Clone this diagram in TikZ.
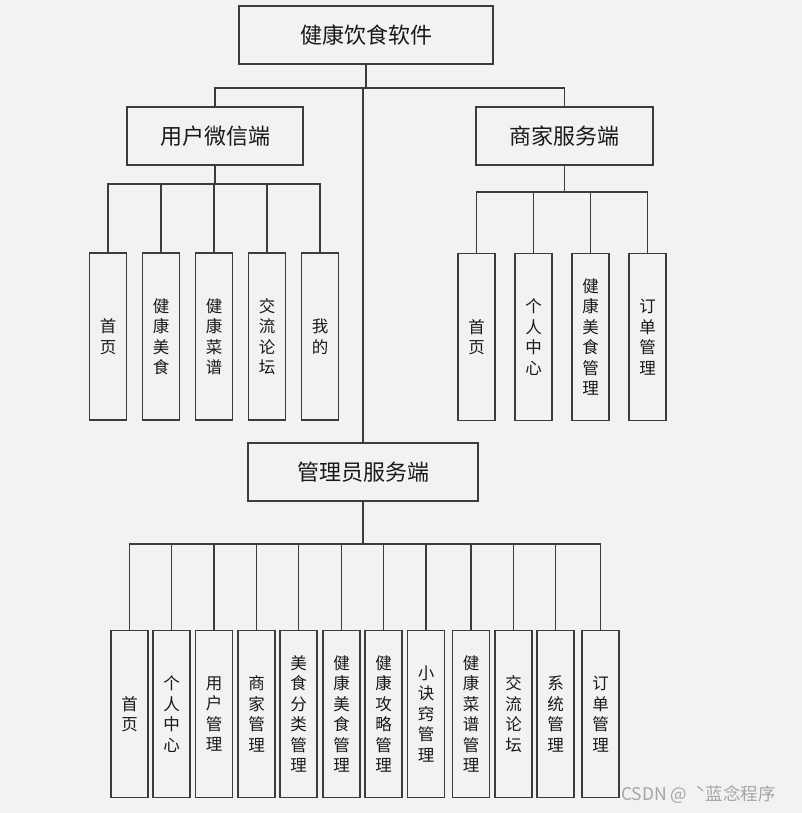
\documentclass[tikz,border=0pt]{standalone}
\usepackage{fontspec}
\setmainfont{Noto Sans CJK SC}
\usepackage{xcolor}
\definecolor{paper}{RGB}{242,242,242}
\definecolor{edge}{RGB}{60,60,60}
\definecolor{mark}{RGB}{165,165,165}
\tikzset{
  box/.style={draw=edge, line width=1.1pt, inner sep=0pt, text=black!90},
  head/.style={box, minimum height=58pt, font=\fontsize{22}{26}\selectfont},
  leaf/.style={box, minimum width=37pt, minimum height=167pt, align=center,
    font=\fontsize{16.5}{20.5}\selectfont},
  link/.style={draw=edge, line width=1.1pt}
}
\begin{document}
\begin{tikzpicture}[x=1pt, y=-1pt]
            \fill[paper] (0,0) rectangle (802,813);
            \useasboundingbox (0,0) rectangle (802,813);
            % Heads
            \node[head, minimum width=254pt] (root) at (366,35) {健康饮食软件};
            \node[head, minimum width=176pt] (user) at (215,136) {用户微信端};
            \node[head, minimum width=177pt] (merch) at (564.5,136) {商家服务端};
            \node[head, minimum width=230pt] (admin) at (363,472) {管理员服务端};
            % Bus points
            \coordinate (rootbus) at (366,88);
            \coordinate (userbus) at (215,184);
            \coordinate (merchbus) at (564.5,192);
            \coordinate (adminbus) at (363,544);
            % User side
            \node[leaf] (u1) at (108,336.5) {首\\页};
            \node[leaf] (u2) at (161,336.5) {健\\康\\美\\食};
            \node[leaf] (u3) at (214,336.5) {健\\康\\菜\\谱};
            \node[leaf] (u4) at (267,336.5) {交\\流\\论\\坛};
            \node[leaf] (u5) at (320,336.5) {我\\的};
            % Merchant side
            \node[leaf] (m1) at (476.5,337) {首\\页};
            \node[leaf] (m2) at (533.5,337) {个\\人\\中\\心};
            \node[leaf] (m3) at (590.5,337) {健\\康\\美\\食\\管\\理};
            \node[leaf] (m4) at (647.5,337) {订\\单\\管\\理};
            % Admin side
            \node[leaf] (a1) at (129.5,714) {首\\页};
            \node[leaf] (a2) at (171.5,714) {个\\人\\中\\心};
            \node[leaf] (a3) at (214,714) {用\\户\\管\\理};
            \node[leaf] (a4) at (256.5,714) {商\\家\\管\\理};
            \node[leaf] (a5) at (298.5,714) {美\\食\\分\\类\\管\\理};
            \node[leaf] (a6) at (341.5,714) {健\\康\\美\\食\\管\\理};
            \node[leaf] (a7) at (383.5,714) {健\\康\\攻\\略\\管\\理};
            \node[leaf] (a8) at (426,714) {小\\诀\\窍\\管\\理};
            \node[leaf] (a9) at (471,714) {健\\康\\菜\\谱\\管\\理};
            \node[leaf] (a10) at (513.5,714) {交\\流\\论\\坛};
            \node[leaf] (a11) at (555.5,714) {系\\统\\管\\理};
            \node[leaf] (a12) at (600.5,714) {订\\单\\管\\理};
            % Links
            \draw[link] (root.south) -- (rootbus);
            \draw[link] (user.north) |- (rootbus) -| (merch.north);
            \draw[link] (admin.north) -- (admin.north |- rootbus);
            \draw[link] (user.south) -- (userbus);
            \draw[link] (merch.south) -- (merchbus);
            \draw[link] (admin.south) -- (adminbus);
            \foreach \i in {1,...,5} \draw[link] (u\i.north) |- (userbus);
            \foreach \i in {1,...,4} \draw[link] (m\i.north) |- (merchbus);
            \foreach \i in {1,...,12} \draw[link] (a\i.north) |- (adminbus);
            % Watermark
            \node[text=mark, anchor=west, inner sep=0pt, font=\fontsize{17.5}{20}\selectfont] (wm) at (621,795) {CSDN @\ \ ˋ蓝念程序};
        \end{tikzpicture}
\end{document}
